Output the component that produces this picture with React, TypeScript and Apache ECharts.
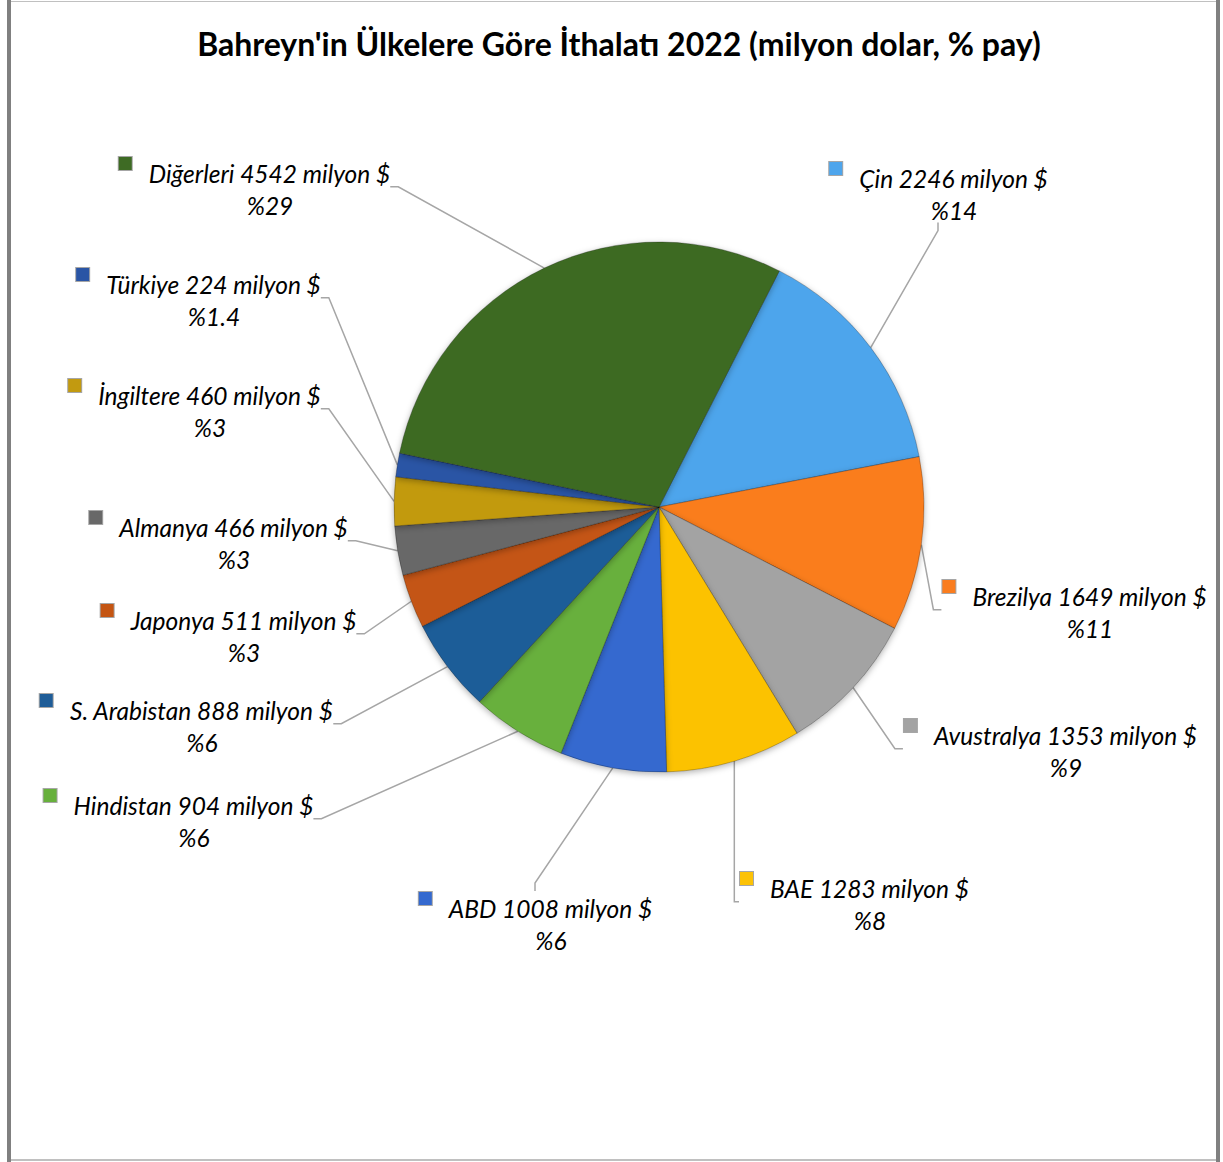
import React, { useEffect, useRef } from 'react';
import * as echarts from 'echarts';

const titleText = "Bahreyn'in Ülkelere Göre İthalatı 2022 (milyon dolar, % pay)";
const countries = ['Çin', 'Brezilya', 'Avustralya', 'BAE', 'ABD', 'Hindistan', 'S. Arabistan', 'Japonya', 'Almanya', 'İngiltere', 'Türkiye', 'Diğerleri'];
const values = [2246, 1649, 1353, 1283, 1008, 904, 888, 511, 466, 460, 224, 4542];
const shares = ['14', '11', '9', '8', '6', '6', '6', '3', '3', '3', '1.4', '29'];
const colors = ['#4ea5ec', '#fa7d1f', '#a3a3a3', '#fcc206', '#3469cf', '#67b03c', '#1f5d98', '#c45513', '#686868', '#c29a10', '#2a55a5', '#3e6b24'];
// label layout: [text centre x, first line centre y]
const labelAnchors: [number, number][] = [
  [954, 178], [1090, 596], [1066, 735], [870, 888], [551, 908], [194, 805],
  [202, 710], [244, 620], [234, 527], [210, 395], [214, 284], [270, 173],
];

const FONT = 'Lato, "Open Sans", sans-serif';

export default function App() {
  const ref = useRef<HTMLDivElement>(null);
  useEffect(() => {
    if (!ref.current) return;
    const chart = echarts.init(ref.current, null, { renderer: 'svg' });
    const rich: any = {
      g: { width: 17, height: 14 },
      s: { width: 31, height: 14 },
      t: { fontFamily: FONT, fontStyle: 'italic', fontSize: 24.5, color: '#000', lineHeight: 32 },
    };
    colors.forEach((c, i) => {
      rich['m' + i] = {
        width: 13, height: 13, backgroundColor: c, borderColor: 'rgba(0,0,0,0.35)', borderWidth: 1,
        verticalAlign: 'top',
      };
    });
    chart.setOption({
      animation: false,
      backgroundColor: '#fff',
      title: {
        text: titleText,
        left: 614,
        textAlign: 'center',
        top: 22,
        textStyle: { fontFamily: FONT, fontWeight: 'bold', fontSize: 32, color: '#000' },
      },
      graphic: [
        { type: 'rect', shape: { x: 7, y: 0, width: 4, height: 1162 }, style: { fill: '#808080' } },
        { type: 'rect', shape: { x: 1216, y: 0, width: 4, height: 1162 }, style: { fill: '#808080' } },
        { type: 'rect', shape: { x: 11, y: 1, width: 1205, height: 1 }, style: { fill: '#c0c0c0' } },
        { type: 'rect', shape: { x: 11, y: 1159, width: 1205, height: 2 }, style: { fill: '#c0c0c0' } },
      ],
      series: [
        {
          type: 'pie',
          center: [659, 507],
          radius: 265,
          startAngle: 63,
          clockwise: true,
          avoidLabelOverlap: false,
          data: countries.map((n, i) => ({
            name: n,
            value: values[i],
            itemStyle: { color: colors[i] },
          })),
          itemStyle: {
            borderColor: 'rgba(0,0,0,0.25)',
            borderWidth: 1,
            shadowBlur: 6,
            shadowColor: 'rgba(0,0,0,0.3)',
            shadowOffsetY: 2,
          },
          label: {
            show: true,
            position: 'outer',
            alignTo: 'none',
            formatter: (p: any) =>
              `{m${p.dataIndex}|}{g|}{t|${countries[p.dataIndex]} ${values[p.dataIndex]} milyon $}\n{s|}{t|%${shares[p.dataIndex]}}`,
            rich,
          },
          labelLine: {
            show: true,
            length: 10,
            length2: 8,
            lineStyle: { color: '#a6a6a6', width: 1.5 },
          },
          labelLayout: (params: any) => {
            const [cx, cy] = labelAnchors[params.dataIndex];
            return { x: cx - 15.5, y: cy - 16, align: 'center', verticalAlign: 'top' };
          },
        },
      ],
    });
    return () => chart.dispose();
  }, []);
  return <div ref={ref} style={{ position: 'absolute', left: 0, top: 0, width: 1223, height: 1162 }} />;
}
